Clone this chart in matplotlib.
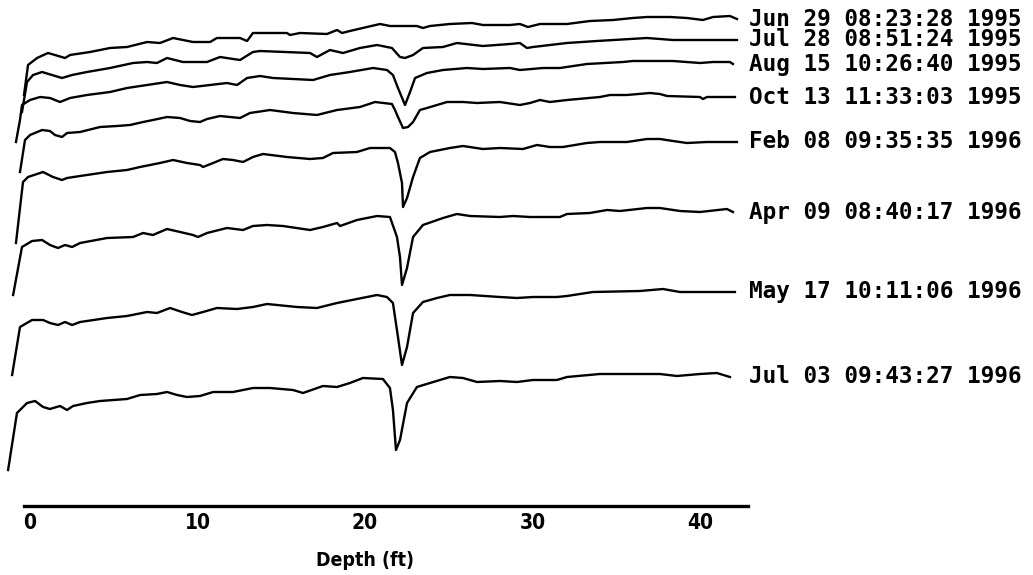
import matplotlib
matplotlib.use("Agg")
from matplotlib import pyplot as plt

# date labels for each profile, top to bottom
labels = ["Jun 29 08:23:28 1995", "Jul 28 08:51:24 1995", "Aug 15 10:26:40 1995",
          "Oct 13 11:33:03 1995", "Feb 08 09:35:35 1996", "Apr 09 08:40:17 1996",
          "May 17 10:11:06 1996", "Jul 03 09:43:27 1996"]

# depth (ft) and trace level (screen units, bigger = lower)
d_jun95 = [-0.36, -0.12, 0.42, 1.07, 1.49, 2.09, 2.39, 3.58, 4.78, 5.79, 6.99, 7.76, 8.54, 9.73,
           10.75, 11.16, 12.54, 12.96, 13.31, 15.34, 15.52, 16.12, 17.73, 18.33, 18.63, 19.10,
           20.12, 20.90, 21.49, 23.10, 23.46, 23.88, 25.07, 26.39, 27.04, 28.66, 29.25, 29.73,
           30.45, 32.06, 33.43, 34.81, 36.00, 36.84, 38.21, 39.22, 40.18, 40.78, 41.79, 42.21]
v_jun95 = [95, 65, 58, 53, 55, 58, 55, 52, 48, 47, 42, 43, 38, 42, 42, 38, 38, 41, 33, 33, 35, 33,
           34, 30, 33, 31, 27, 24, 26, 26, 28, 26, 24, 23, 25, 25, 24, 27, 24, 24, 21, 20, 18, 17,
           17, 18, 20, 17, 16, 19]

d_jul95 = [-0.48, -0.18, 0.18, 0.72, 1.31, 1.91, 2.51, 3.40, 4.78, 6.15, 6.99, 7.58, 8.18, 9.13,
           10.57, 11.34, 12.54, 13.31, 13.73, 16.72, 17.13, 17.91, 18.69, 19.70, 20.72, 21.61,
           22.09, 22.39, 22.87, 23.46, 24.66, 25.49, 27.04, 28.66, 29.25, 29.67, 30.03, 32.06,
           33.85, 36.84, 38.39, 42.21]
v_jul95 = [112, 82, 75, 72, 75, 78, 75, 72, 68, 63, 62, 63, 58, 62, 62, 57, 60, 52, 51, 53, 57,
           50, 53, 48, 45, 48, 57, 58, 55, 48, 47, 43, 46, 44, 43, 48, 47, 43, 41, 38, 40, 40]

d_aug95 = [-0.84, -0.60, -0.48, 0.0, 0.60, 1.19, 1.79, 2.39, 3.40, 4.78, 5.79, 6.99, 8.18, 8.96,
           9.73, 10.75, 11.76, 12.36, 12.96, 13.73, 14.51, 16.90, 17.91, 19.10, 20.48, 21.31,
           21.67, 21.97, 22.39, 22.69, 22.99, 23.70, 24.66, 26.09, 27.04, 28.66, 29.25, 30.63,
           31.64, 33.25, 35.40, 36.00, 38.39, 40.00, 40.78, 41.79, 41.97]
v_aug95 = [142, 120, 105, 100, 97, 98, 102, 98, 95, 92, 88, 85, 82, 85, 87, 85, 83, 85, 78, 76,
           78, 80, 75, 72, 68, 70, 75, 88, 105, 92, 78, 73, 70, 68, 69, 68, 70, 68, 68, 64, 62, 61,
           61, 63, 62, 62, 64]

d_oct95 = [-0.60, -0.30, 0.0, 0.72, 1.19, 1.49, 1.91, 2.21, 2.99, 4.18, 5.19, 5.97, 6.75, 7.34,
           8.18, 8.96, 9.55, 10.15, 10.57, 11.34, 12.54, 13.13, 14.33, 15.70, 17.13, 18.33, 19.70,
           20.60, 21.61, 21.79, 21.97, 22.27, 22.57, 22.87, 23.28, 23.70, 24.90, 25.85, 26.69,
           28.06, 29.25, 29.85, 30.45, 31.04, 32.06, 34.03, 34.63, 35.64, 37.01, 37.61, 38.03,
           40.00, 40.18, 40.42, 42.09]
v_oct95 = [172, 140, 135, 130, 131, 135, 137, 133, 132, 127, 126, 125, 122, 120, 117, 118, 121,
           122, 119, 116, 118, 113, 110, 113, 115, 110, 107, 102, 104, 110, 117, 128, 127, 122,
           110, 108, 102, 102, 103, 102, 105, 103, 100, 102, 100, 97, 95, 95, 93, 94, 96, 97, 99,
           97, 97]

d_feb96 = [-0.84, -0.42, -0.12, 0.78, 1.37, 1.91, 2.21, 2.99, 4.60, 5.79, 6.57, 7.76, 8.54, 9.37,
           10.15, 10.33, 10.93, 11.52, 12.12, 12.72, 13.31, 13.91, 15.34, 16.72, 17.49, 18.09,
           19.52, 20.30, 21.49, 21.79, 21.97, 22.21, 22.27, 22.51, 22.87, 23.28, 23.88, 25.07,
           25.85, 27.04, 28.06, 29.43, 30.27, 31.04, 31.82, 33.25, 34.03, 35.64, 36.84, 37.61,
           38.39, 39.22, 40.42, 42.21]
v_feb96 = [243, 182, 177, 172, 177, 180, 178, 176, 172, 170, 167, 163, 160, 163, 165, 167, 163,
           159, 160, 162, 157, 154, 157, 159, 158, 153, 152, 148, 148, 152, 163, 183, 207, 198,
           177, 158, 152, 148, 146, 149, 148, 149, 145, 147, 147, 143, 142, 142, 139, 139, 141,
           143, 142, 142]

d_apr96 = [-1.01, -0.48, 0.12, 0.72, 1.19, 1.67, 2.09, 2.51, 2.99, 4.60, 6.15, 6.75, 7.34, 8.18,
           8.96, 9.73, 10.03, 10.57, 11.76, 12.72, 13.31, 14.15, 15.10, 16.72, 17.49, 18.33,
           18.51, 19.52, 20.72, 21.49, 21.91, 22.09, 22.21, 22.51, 22.87, 23.46, 24.66, 25.49,
           26.27, 28.06, 28.84, 29.85, 31.64, 32.06, 33.43, 34.45, 35.22, 36.84, 37.61, 38.81,
           40.00, 41.61, 41.97]
v_apr96 = [295, 247, 241, 240, 245, 248, 245, 247, 243, 238, 237, 233, 235, 229, 232, 235, 237,
           233, 228, 230, 226, 225, 226, 230, 227, 223, 226, 220, 216, 217, 237, 257, 285, 268,
           237, 225, 218, 214, 216, 217, 216, 217, 217, 214, 213, 210, 211, 208, 208, 211, 212,
           209, 212]

d_may96 = [-1.07, -0.60, 0.12, 0.78, 1.19, 1.67, 2.09, 2.51, 2.99, 4.60, 5.79, 6.99, 7.58, 8.36,
           9.07, 9.67, 10.33, 11.16, 12.36, 13.31, 14.15, 15.94, 17.13, 18.33, 19.52, 20.72,
           21.31, 21.67, 21.97, 22.21, 22.51, 22.87, 23.46, 24.30, 25.07, 26.27, 28.06, 29.07,
           30.03, 31.46, 32.06, 33.61, 36.42, 37.79, 38.81, 42.09]
v_may96 = [375, 327, 320, 320, 323, 325, 322, 325, 322, 318, 316, 312, 313, 308, 312, 315, 312,
           308, 309, 307, 304, 307, 308, 303, 299, 295, 297, 303, 337, 365, 347, 313, 302, 298,
           295, 295, 297, 298, 297, 297, 296, 292, 291, 289, 292, 292]

d_jul96 = [-1.31, -0.78, -0.18, 0.30, 0.78, 1.19, 1.79, 2.21, 2.57, 3.40, 4.18, 5.79, 6.57, 7.58,
           8.18, 8.78, 9.37, 10.15, 10.93, 12.12, 13.31, 14.33, 15.70, 16.30, 17.49, 18.33,
           19.10, 19.88, 21.07, 21.49, 21.67, 21.85, 22.09, 22.51, 23.10, 23.88, 25.07, 25.85,
           26.69, 28.06, 29.07, 30.03, 31.46, 32.06, 34.03, 35.64, 37.61, 38.63, 40.00, 41.01,
           41.79]
v_jul96 = [470, 413, 403, 401, 407, 409, 406, 410, 406, 403, 401, 399, 395, 394, 392, 395, 397,
           396, 392, 392, 388, 388, 390, 393, 386, 387, 383, 378, 379, 388, 410, 450, 440, 403,
           387, 383, 377, 378, 382, 381, 382, 380, 380, 377, 374, 374, 374, 376, 374, 373, 377]

depths = [d_jun95, d_jul95, d_aug95, d_oct95, d_feb96, d_apr96, d_may96, d_jul96]
levels = [v_jun95, v_jul95, v_aug95, v_oct95, v_feb96, v_apr96, v_may96, v_jul96]

fig = plt.figure(figsize=(10.33, 5.75), dpi=100)
# axes spans the depth axis line only, traces spill past the left edge
ax = fig.add_axes([24 / 1033, 69 / 575, 724 / 1033, 506 / 575])

for d, v, lab in zip(depths, levels, labels):
    ax.plot(d, v, color='black', linewidth=1.7, clip_on=False, solid_joinstyle='round')
    # date text just past the end of each trace
    ax.text(42.9, v[-1], lab, ha='left', va='center', fontsize=16.3, fontweight='bold',
            family=['DejaVu Sans Mono'], clip_on=False)

ax.set_xlim(-0.36, 42.87)
ax.set_ylim(506, 0)

for side in ['top', 'right', 'left']:
    ax.spines[side].set_visible(False)
ax.spines['bottom'].set_linewidth(2.4)
ax.set_yticks([])
ax.set_xticks([0, 10, 20, 30, 40])
ax.tick_params(axis='x', length=0, pad=5)
for t in ax.get_xticklabels():
    t.set_family(['DejaVu Sans'])
    t.set_stretch('condensed')
    t.set_fontweight('bold')
    t.set_fontsize(15)

ax.set_xlabel('Depth (ft)', fontsize=14, fontweight='bold', family=['DejaVu Sans'],
              fontstretch='condensed', va='center')
ax.xaxis.set_label_coords(0.471, -0.107)

plt.savefig('out.png', dpi=100)
